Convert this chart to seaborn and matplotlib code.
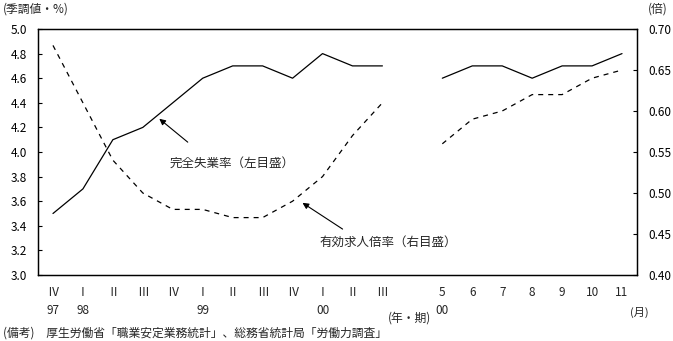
import numpy as np
import pandas as pd
import matplotlib
matplotlib.use("Agg")
import matplotlib.pyplot as plt
import seaborn as sns

sns.set_theme(style="white")
plt.rcParams['font.family'] = ['Noto Sans CJK JP', 'DejaVu Sans']

# Quarterly period (1997 Q4 - 2000 Q3)
q_labels = ["Ⅳ\n97", "Ⅰ\n98", "Ⅱ", "Ⅲ", "Ⅳ", "Ⅰ\n99", "Ⅱ", "Ⅲ", "Ⅳ", "Ⅰ\n00", "Ⅱ", "Ⅲ"]
q_unemp = [3.5, 3.7, 4.1, 4.2, 4.4, 4.6, 4.7, 4.7, 4.6, 4.8, 4.7, 4.7]
q_jobs = [0.68, 0.61, 0.54, 0.50, 0.48, 0.48, 0.47, 0.47, 0.49, 0.52, 0.57, 0.61]

# Monthly period (2000 May - Nov)
m_labels = ["5\n00", "6", "7", "8", "9", "10", "11"]
m_unemp = [4.6, 4.7, 4.7, 4.6, 4.7, 4.7, 4.8]
m_jobs = [0.56, 0.59, 0.60, 0.62, 0.62, 0.64, 0.65]

q_pos = np.arange(len(q_labels))
m_pos = np.arange(len(m_labels)) + len(q_labels) + 1

q_df = pd.DataFrame({"pos": q_pos, "unemp": q_unemp, "jobs": q_jobs})
m_df = pd.DataFrame({"pos": m_pos, "unemp": m_unemp, "jobs": m_jobs})

fig = plt.figure(figsize=(6.73, 3.41), dpi=100)
ax = fig.add_axes([38/673, 1 - 275/341, (637-38)/673, (275-29)/341])
ax2 = ax.twinx()

lw = 0.9
for df in (q_df, m_df):
    sns.lineplot(data=df, x="pos", y="unemp", ax=ax, color="black", linewidth=lw)
    sns.lineplot(data=df, x="pos", y="jobs", ax=ax2, color="black",
                 linewidth=lw, linestyle=(0, (4, 4)))

ax.set_xlim(-0.5, 19.5)
ax.set_ylim(3.0, 5.0)
ax2.set_ylim(0.40, 0.70)

ax.set_yticks(np.arange(3.0, 5.01, 0.2))
ax.set_yticklabels([f"{v:.1f}" for v in np.arange(3.0, 5.01, 0.2)], fontsize=8.5)
ax2.set_yticks(np.arange(0.40, 0.701, 0.05))
ax2.set_yticklabels([f"{v:.2f}" for v in np.arange(0.40, 0.701, 0.05)], fontsize=8.5)

ax.set_xticks(list(q_pos) + list(m_pos))
ax.set_xticklabels(q_labels + m_labels, fontsize=8.5, linespacing=1.5)
ax.tick_params(axis="x", length=0, pad=8)
ax.tick_params(axis="y", direction="in", length=3, width=0.8, pad=8, colors="black")
ax2.tick_params(axis="y", direction="in", length=3, width=0.8, pad=8, colors="black")

for a in (ax, ax2):
    a.set_xlabel("")
    a.set_ylabel("")
    for s in a.spines.values():
        s.set_color("black")
        s.set_linewidth(0.9)

arrow = dict(arrowstyle="-|>", color="black", lw=0.8, mutation_scale=9, shrinkA=0, shrinkB=0)
ax.annotate("", xy=(3.55, 4.27), xytext=(4.5, 4.08), arrowprops=arrow)
ax.text(3.9, 3.91, "完全失業率（左目盛）", fontsize=9, va="center", ha="left")
ax2.annotate("", xy=(8.33, 0.488), xytext=(9.67, 0.456), arrowprops=arrow)
ax2.text(8.9, 0.44, "有効求人倍率（右目盛）", fontsize=9, va="center", ha="left")

fig.text(3/673, 1 - 9/341, "(季調値・%)", fontsize=8.5, va="center", ha="left")
fig.text(648/673, 1 - 9/341, "(倍)", fontsize=8.5, va="center", ha="left")
fig.text(410/673, 1 - 318/341, "(年・期)", fontsize=8.5, va="center", ha="center")
fig.text(639/673, 1 - 312/341, "(月)", fontsize=8, va="center", ha="center")
fig.text(3/673, 1 - 333/341, "(備考)　厚生労働省「職業安定業務統計」、総務省統計局「労働力調査」",
         fontsize=8.5, va="center", ha="left")

fig.savefig("out.png", dpi=100)
